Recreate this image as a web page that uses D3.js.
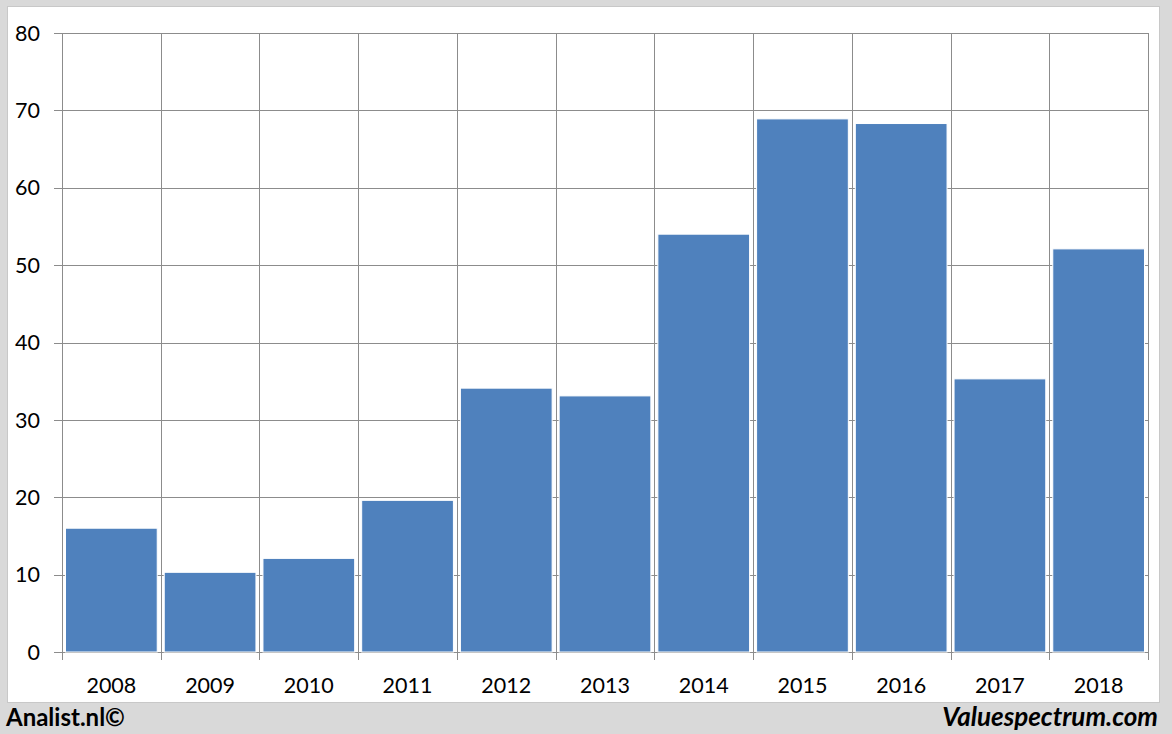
<!DOCTYPE html>
<html><head><meta charset="utf-8">
<script src="https://cdn.jsdelivr.net/npm/d3@7"></script>
<style>body{margin:0;background:#d9d9d9;}svg{display:block;}</style>
</head><body>
<svg id="c" width="1172" height="734"></svg>
<script>
const years = ["2008","2009","2010","2011","2012","2013","2014","2015","2016","2017","2018"];
const values = [16.0, 10.3, 12.1, 19.6, 34.1, 33.1, 54.0, 68.9, 68.3, 35.3, 52.1];
const yTicks = [0,10,20,30,40,50,60,70,80];

(function(){
const svg = d3.select("#c");
svg.append("rect").attr("x",0).attr("y",0).attr("width",1172).attr("height",734).attr("fill","#d9d9d9");
svg.append("rect").attr("x",7.5).attr("y",6.5).attr("width",1152).attr("height",696).attr("fill","#fff").attr("stroke","#c8c8c8");

const pLeft=62, pRight=1148, pTop=33, pBottom=652;
const x = d3.scaleBand().domain(years).range([pLeft,pRight]).paddingInner(0).paddingOuter(0);
const y = d3.scaleLinear().domain([0,80]).range([pBottom,pTop]);
const font = "Lato, 'Open Sans', sans-serif";
const grid = "#8c8c8c";

svg.append("g").selectAll("line").data(yTicks).join("line")
  .attr("x1",pLeft-8).attr("x2",pRight).attr("y1",d=>Math.round(y(d))+0.5).attr("y2",d=>Math.round(y(d))+0.5)
  .attr("stroke",grid).attr("stroke-width",1);
const bounds = years.map(d=>x(d)).concat([pRight]);
svg.append("g").selectAll("line").data(bounds).join("line")
  .attr("x1",d=>Math.round(d)+0.5).attr("x2",d=>Math.round(d)+0.5).attr("y1",pTop).attr("y2",pBottom+8)
  .attr("stroke",grid).attr("stroke-width",1);

const pad = 3.5;
svg.append("g").selectAll("rect").data(values).join("rect")
  .attr("x",(d,i)=>x(years[i])+pad).attr("width",x.bandwidth()-2*pad)
  .attr("y",d=>y(d)).attr("height",d=>y(0)-y(d))
  .attr("fill","#4f81bd").attr("stroke","#ffffff").attr("stroke-width",1);

svg.append("g").selectAll("text").data(yTicks).join("text")
  .attr("x",40).attr("y",d=>y(d)).attr("dy","0.36em").attr("text-anchor","end")
  .attr("font-family",font).attr("font-size",21.5).attr("fill","#000").text(d=>d);
svg.append("g").selectAll("text").data(years).join("text")
  .attr("x",d=>x(d)+x.bandwidth()/2).attr("y",693).attr("text-anchor","middle")
  .attr("font-family",font).attr("font-size",21.5).attr("fill","#000").text(d=>d);

svg.append("text").attr("x",6).attr("y",726).attr("font-family",font).attr("font-weight","bold")
  .attr("font-size",24).attr("fill","#000").text("Analist.nl©");
svg.append("text").attr("x",1158).attr("y",726).attr("text-anchor","end").attr("font-family",font)
  .attr("font-weight","bold").attr("font-style","italic").attr("font-size",26).attr("fill","#000").text("Valuespectrum.com");
})();
</script>
</body></html>
